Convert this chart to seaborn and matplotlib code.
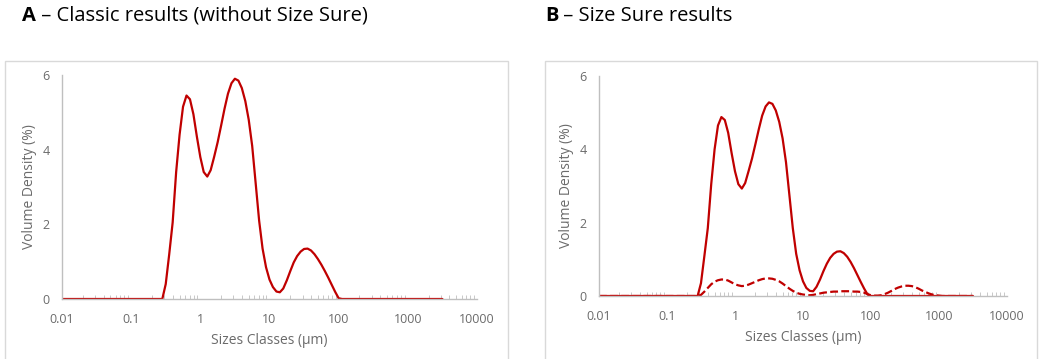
import matplotlib
matplotlib.use("Agg")
import matplotlib.pyplot as plt
import seaborn as sns
import pandas as pd
from matplotlib.patches import Rectangle
from matplotlib.ticker import LogLocator, NullFormatter

# size classes (um)
sizes = [0.01,
         0.282, 0.316, 0.355, 0.398, 0.447, 0.501, 0.562, 0.631, 0.708, 0.794, 0.891,
         1.00, 1.12, 1.26, 1.41, 1.58, 1.78, 2.00, 2.24, 2.51, 2.82, 3.16, 3.55, 3.98,
         4.47, 5.01, 5.62, 6.31, 7.08, 7.94, 8.91,
         10.0, 11.2, 12.6, 14.1, 15.8, 17.8, 20.0, 22.4, 25.1, 28.2, 31.6, 35.5, 39.8,
         44.7, 50.1, 56.2, 63.1, 70.8, 79.4, 89.1,
         100, 112, 126, 141, 158, 178, 200, 224, 251, 282, 316, 355, 398,
         447, 501, 562, 631, 708, 794, 891,
         1000, 1120, 1260, 1410, 1580, 1780, 2000, 2240, 2510, 2820, 3160]

# A - classic results
classic = [0,
           0, 0.4, 1.2, 2.05, 3.4, 4.4, 5.15, 5.45, 5.35, 4.95, 4.35,
           3.8, 3.4, 3.28, 3.45, 3.8, 4.2, 4.65, 5.1, 5.5, 5.78, 5.9, 5.85, 5.65,
           5.3, 4.8, 4.1, 3.1, 2.1, 1.35, 0.85,
           0.52, 0.32, 0.2, 0.18, 0.28, 0.5, 0.75, 0.98, 1.15, 1.27, 1.34, 1.35, 1.3,
           1.2, 1.07, 0.92, 0.75, 0.57, 0.38, 0.19,
           0.02, 0, 0, 0, 0, 0, 0, 0, 0, 0, 0, 0, 0,
           0, 0, 0, 0, 0, 0, 0,
           0, 0, 0, 0, 0, 0, 0, 0, 0, 0, 0]

# B - size sure results: main population (solid) and second population (dashed)
sure_main = [0,
             0, 0.35, 1.1, 1.85, 3.05, 4.0, 4.65, 4.88, 4.8, 4.45, 3.9,
             3.4, 3.05, 2.93, 3.08, 3.4, 3.75, 4.15, 4.55, 4.92, 5.17, 5.28, 5.24, 5.06,
             4.75, 4.3, 3.65, 2.75, 1.85, 1.15, 0.7,
             0.4, 0.22, 0.14, 0.13, 0.25, 0.45, 0.68, 0.88, 1.04, 1.15, 1.21, 1.22, 1.17,
             1.07, 0.93, 0.76, 0.57, 0.38, 0.2, 0.04,
             0, 0, 0, 0, 0, 0, 0, 0, 0, 0, 0, 0, 0,
             0, 0, 0, 0, 0, 0, 0,
             0, 0, 0, 0, 0, 0, 0, 0, 0, 0, 0]

sure_second = [0,
               0, 0.03, 0.12, 0.22, 0.32, 0.39, 0.43, 0.45, 0.45, 0.42, 0.37,
               0.32, 0.29, 0.27, 0.28, 0.31, 0.35, 0.39, 0.43, 0.46, 0.48, 0.48, 0.47, 0.44,
               0.40, 0.34, 0.27, 0.2, 0.14, 0.09, 0.06,
               0.04, 0.03, 0.02, 0.03, 0.05, 0.07, 0.09, 0.1, 0.11, 0.12, 0.12, 0.13, 0.13,
               0.13, 0.13, 0.12, 0.12, 0.11, 0.09, 0.05,
               0.02, 0.01, 0.01, 0.02, 0.05, 0.09, 0.14, 0.19, 0.23, 0.26, 0.28, 0.28, 0.27,
               0.24, 0.2, 0.15, 0.11, 0.07, 0.04, 0.02,
               0.01, 0, 0, 0, 0, 0, 0, 0, 0, 0, 0]

xtick_vals = [0.01, 0.1, 1, 10, 100, 1000, 10000]
xtick_labels = ["0.01", "0.1", "1", "10", "100", "1000", "10000"]
ytick_vals = [0, 2, 4, 6]

titles = [("A", " – Classic results (without Size Sure)"),
          ("B", " – Size Sure results")]

RED = "#c00000"
AXIS_GREY = "#bfbfbf"
TEXT_GREY = "#6b6b6b"

sns.set_style("white")
plt.rcParams["font.family"] = ["Open Sans", "DejaVu Sans"]

df = pd.DataFrame({"size": sizes, "classic": classic,
                   "main": sure_main, "second": sure_second})

fig = plt.figure(figsize=(10.4, 3.59), dpi=100)

# panel frames
for x0, x1 in [(5, 508), (545, 1037)]:
    fig.patches.append(Rectangle((x0 / 1040, -0.02), (x1 - x0) / 1040, 1 - 61 / 359 + 0.02,
                                 transform=fig.transFigure, fill=False,
                                 edgecolor="#d9d9d9", linewidth=1))

ax_a = fig.add_axes([62 / 1040, 1 - 299 / 359, (477 - 62) / 1040, (299 - 75) / 359])
ax_b = fig.add_axes([599 / 1040, 1 - 296 / 359, (1007 - 599) / 1040, (296 - 76) / 359])

sns.lineplot(data=df, x="size", y="classic", ax=ax_a, color=RED, linewidth=1.6)
sns.lineplot(data=df, x="size", y="main", ax=ax_b, color=RED, linewidth=1.6)
sns.lineplot(data=df, x="size", y="second", ax=ax_b, color=RED, linewidth=1.6,
             linestyle=(0, (3.5, 1.5)))

for ax in (ax_a, ax_b):
    ax.set_xscale("log")
    ax.set_xlim(0.01, 10000)
    ax.set_ylim(0, 6)
    ax.set_xticks(xtick_vals)
    ax.set_xticklabels(xtick_labels)
    ax.xaxis.set_minor_locator(LogLocator(base=10, subs=range(2, 10), numticks=20))
    ax.xaxis.set_minor_formatter(NullFormatter())
    ax.set_yticks(ytick_vals)
    ax.set_yticklabels([str(v) for v in ytick_vals])
    for side in ("top", "right"):
        ax.spines[side].set_visible(False)
    for side in ("left", "bottom"):
        ax.spines[side].set_color(AXIS_GREY)
        ax.spines[side].set_linewidth(1)
    ax.tick_params(axis="both", which="major", direction="out", length=4,
                   color=AXIS_GREY, labelsize=9, labelcolor=TEXT_GREY, pad=5)
    ax.tick_params(axis="x", which="minor", direction="in", length=3,
                   color=AXIS_GREY, bottom=True)
    ax.tick_params(axis="x", which="major", pad=6)
    ax.set_xlabel("Sizes Classes (µm)", fontsize=10, color=TEXT_GREY, labelpad=5)
    ax.set_ylabel("Volume Density (%)", fontsize=10, color=TEXT_GREY, labelpad=4)
    ax.patch.set_alpha(0)

# panel titles: bold letter followed by regular text
renderer = fig.canvas.get_renderer()
for (letter, rest), x_px in zip(titles, [22, 545]):
    t = fig.text(x_px / 1040, 1 - 16 / 359, letter, fontsize=14.5, fontweight="bold",
                 va="center", ha="left", color="black")
    bb = t.get_window_extent(renderer=renderer)
    fig.text(bb.x1 / fig.bbox.width, 1 - 16 / 359, rest, fontsize=14.5,
             va="center", ha="left", color="black")

fig.savefig("out.png", dpi=100)
